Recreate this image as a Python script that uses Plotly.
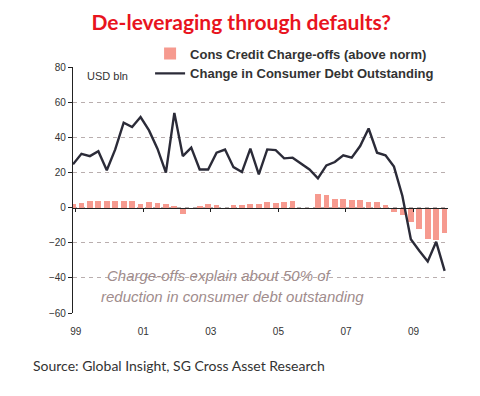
import plotly.graph_objects as go

# ---- data (quarterly, 1999Q1 .. 2010Q1) ----
years = [1999, 2000, 2001, 2002, 2003, 2004, 2005, 2006, 2007, 2008, 2009, 2010]
quarters = [f"{y}Q{q}" for y in years for q in (1, 2, 3, 4)][:45]

charge_offs = [2, 2.5, 3.5, 3.5, 3.5, 3.5, 4, 3.5, 2, 3, 2.5, 2, 1, -3.8,
               0, 0.8, 2, 1.5, 0, 1.5, 1.5, 2, 2, 3.2, 2.6, 3.2, 3.7, 0,
               0, 7.7, 7.1, 5, 5, 4.3, 4.3, 3.2, 3.2, 1.5, -2.6, -4.1, -8.3,
               -12, -17.8, -18.7, -14.3]

debt_change = [24.6, 30.6, 29.3, 32.1, 21.2, 33.1, 48.3, 45.8, 51.5, 43.9,
               33.5, 19.9, 53.9, 29.3, 34.1, 21.7, 21.7, 31.2, 33, 23, 20.2,
               33.5, 18.9, 33.1, 32.7, 28, 28.4, 25, 21.7, 16.6, 24, 25.9,
               29.7, 28.4, 35, 45, 31.2, 29.7, 23.3, 6.6, -18, -24.6, -30.7,
               -19.5, -36]

tick_years = [1999, 2001, 2003, 2005, 2007, 2009]
tick_labels = ["99", "01", "03", "05", "07", "09"]

y_ticks = [80, 60, 40, 20, 0, -20, -40, -60]

# quarter labels -> decimal year positions
x_pos = [int(q[:4]) + (int(q[5]) - 1) / 4 for q in quarters]
tick_pos = [y + 0.08 for y in tick_years]

DARK = "#2b2b38"
BAR = "#f69a8f"
TXT = "#333333"
GRID = "#b9aeae"

fig = go.Figure()
fig.add_trace(go.Bar(
    x=x_pos, y=charge_offs, name="Cons Credit Charge-offs (above norm)",
    marker=dict(color=BAR, line=dict(width=0)), width=0.17,
    xaxis="x", yaxis="y", legendgroup="a",
))
fig.add_trace(go.Scatter(
    x=x_pos, y=debt_change, name="Change in Consumer Debt Outstanding",
    mode="lines", line=dict(color=DARK, width=2.4),
    xaxis="x2", yaxis="y", legendgroup="b",
))

zero_pos = (0 - min(y_ticks)) / (max(y_ticks) - min(y_ticks))

fig.update_layout(
    width=480, height=396,
    margin=dict(l=65, r=40, t=59, b=91, autoexpand=False),
    paper_bgcolor="white", plot_bgcolor="white",
    font=dict(family="Liberation Sans, Arial", color=TXT, size=10),
    title=dict(
        text="<b>De-leveraging through defaults?</b>",
        font=dict(family="Lato", size=21, color="#e8141e"),
        x=0.486, xanchor="center", y=0.962, yanchor="middle", xref="container", yref="container",
    ),
    showlegend=True,
    legend=dict(
        xref="container", yref="container",
        x=0.296, y=0.923, xanchor="left", yanchor="top",
        font=dict(family="Liberation Sans, Arial", size=13, color=TXT, weight="bold"),
        bgcolor="rgba(0,0,0,0)", itemwidth=30, traceorder="normal",
        tracegroupgap=6,
    ),
    bargap=0,
    xaxis=dict(
        range=[1999, 2010.1], tickvals=tick_pos, ticktext=tick_labels,
        showgrid=False, zeroline=False, showline=False, ticks="",
        ticklabelstandoff=11, tickfont=dict(size=10, color=TXT),
    ),
    xaxis2=dict(
        overlaying="x", matches="x", anchor="free", position=zero_pos,
        tickvals=tick_pos, showticklabels=False, showgrid=False,
        zeroline=False, showline=True, linecolor="#222222", linewidth=1.2,
        ticks="outside", ticklen=3, tickcolor="#222222", tickwidth=1.2,
    ),
    yaxis=dict(
        range=[-60, 80], tickvals=y_ticks, showgrid=True, gridcolor=GRID,
        griddash="4px,4px", gridwidth=1, zeroline=False,
        showline=True, linecolor="#222222", linewidth=1.2,
        ticks="outside", ticklen=4, tickcolor="#222222",
        tickfont=dict(size=10, color=TXT),
    ),
    annotations=[
        dict(text="USD bln", x=1999.35, y=74.7, xref="x", yref="y",
             xanchor="left", yanchor="middle", showarrow=False,
             font=dict(size=11, color=TXT)),
        dict(text="<i>Charge-offs explain about 50% of</i>", x=1999.95, y=-38.4,
             xref="x", yref="y", xanchor="left", yanchor="middle", showarrow=False,
             font=dict(size=15, color="#a08c8c")),
        dict(text="<i>reduction in consumer debt outstanding</i>", x=1999.77, y=-50.4,
             xref="x", yref="y", xanchor="left", yanchor="middle", showarrow=False,
             font=dict(size=15, color="#a08c8c")),
        dict(text="Source: Global Insight, SG Cross Asset Research",
             x=-0.1128, y=-0.2152, xref="paper", yref="paper",
             xanchor="left", yanchor="middle", showarrow=False,
             font=dict(family="Lato", size=14, color=TXT)),
    ],
)

fig.write_html("out.html")
